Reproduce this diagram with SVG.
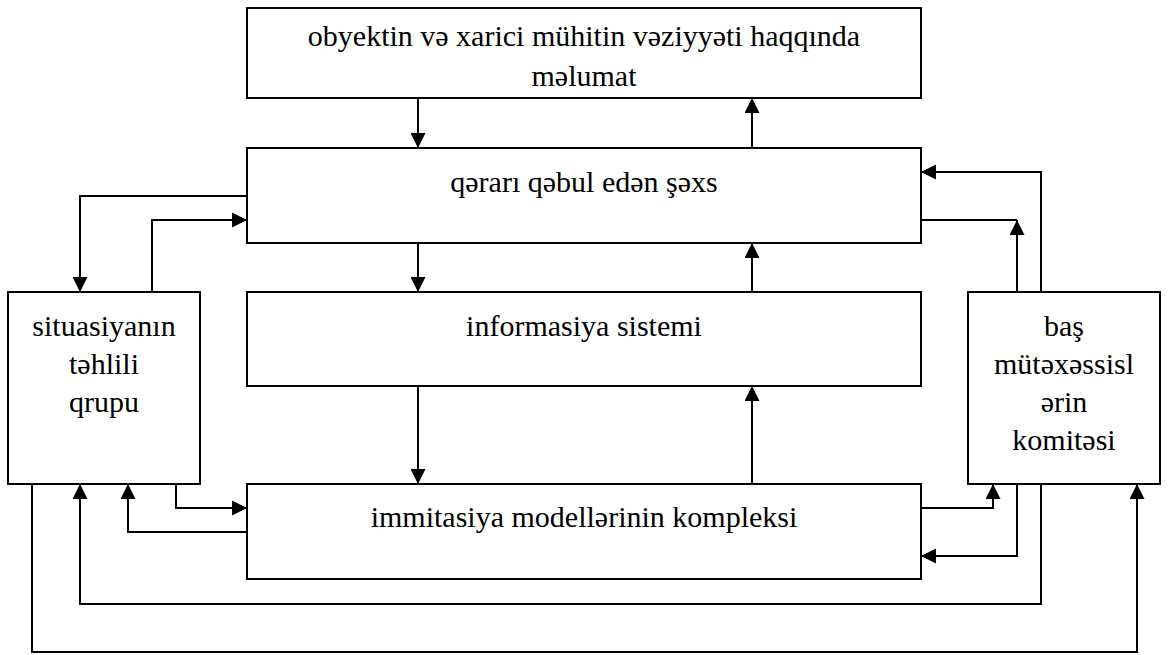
<svg xmlns="http://www.w3.org/2000/svg" width="1168" height="655" viewBox="0 0 1168 655">
<style>
.box{fill:#fff;stroke:#000;stroke-width:2}
text{font-family:'Liberation Serif','DejaVu Serif',serif;font-size:30px;fill:#000;text-anchor:middle}
.c{fill:none;stroke:#000;stroke-width:2}
</style>
<defs>
<marker id="ah" viewBox="0 0 10 10" refX="10" refY="5" markerWidth="15" markerHeight="15" markerUnits="userSpaceOnUse" orient="auto">
<path d="M0,0 L10,5 L0,10 Z" fill="#000"/>
</marker>
</defs>
<rect width="1168" height="655" fill="#fff"/>
<g id="n-info-top">
<rect class="box" x="247" y="8" width="674" height="90"/>
<text x="584" y="46" font-family="Liberation Serif, serif">obyektin və xarici mühitin vəziyyəti haqqında</text>
<text x="584" y="86" font-family="Liberation Serif, serif">məlumat</text>
</g>
<g id="n-decision">
<rect class="box" x="247" y="148" width="674" height="95"/>
<text x="584" y="192" font-family="Liberation Serif, serif">qərarı qəbul edən şəxs</text>
</g>
<g id="n-infosys">
<rect class="box" x="247" y="292" width="674" height="94"/>
<text x="584" y="336" font-family="Liberation Serif, serif">informasiya sistemi</text>
</g>
<g id="n-models">
<rect class="box" x="247" y="484" width="674" height="95"/>
<text x="584" y="527" font-family="Liberation Serif, serif">immitasiya modellərinin kompleksi</text>
</g>
<g id="n-analysis">
<rect class="box" x="8" y="292" width="192" height="192"/>
<text x="104" y="336" font-family="Liberation Serif, serif">situasiyanın</text>
<text x="104" y="374" font-family="Liberation Serif, serif">təhlili</text>
<text x="104" y="412" font-family="Liberation Serif, serif">qrupu</text>
</g>
<g id="n-experts">
<rect class="box" x="968" y="292" width="192" height="192"/>
<text x="1064" y="336" font-family="Liberation Serif, serif">baş</text>
<text x="1064" y="374" font-family="Liberation Serif, serif">mütəxəssisl</text>
<text x="1064" y="412" font-family="Liberation Serif, serif">ərin</text>
<text x="1064" y="450" font-family="Liberation Serif, serif">komitəsi</text>
</g>
<g id="connectors">
<path class="c" d="M418,98 V148" marker-end="url(#ah)"/>
<path class="c" d="M752,148 V98" marker-end="url(#ah)"/>
<path class="c" d="M418,243 V292" marker-end="url(#ah)"/>
<path class="c" d="M752,292 V243" marker-end="url(#ah)"/>
<path class="c" d="M418,386 V484" marker-end="url(#ah)"/>
<path class="c" d="M752,484 V386" marker-end="url(#ah)"/>
<path class="c" d="M247,196 H80 V292" marker-end="url(#ah)"/>
<path class="c" d="M152,292 V220 H247" marker-end="url(#ah)"/>
<path class="c" d="M176,484 V508 H247" marker-end="url(#ah)"/>
<path class="c" d="M247,532 H128 V484" marker-end="url(#ah)"/>
<path class="c" d="M1041,292 V172 H921" marker-end="url(#ah)"/>
<path class="c" d="M921,220 H1017"/>
<path class="c" d="M1017,292 V220" marker-end="url(#ah)"/>
<path class="c" d="M921,508 H993 V484" marker-end="url(#ah)"/>
<path class="c" d="M1017,484 V556 H921" marker-end="url(#ah)"/>
<path class="c" d="M1041,484 V604 H80 V484" marker-end="url(#ah)"/>
<path class="c" d="M32,484 V652 H1137 V484" marker-end="url(#ah)"/>
</g>
</svg>
